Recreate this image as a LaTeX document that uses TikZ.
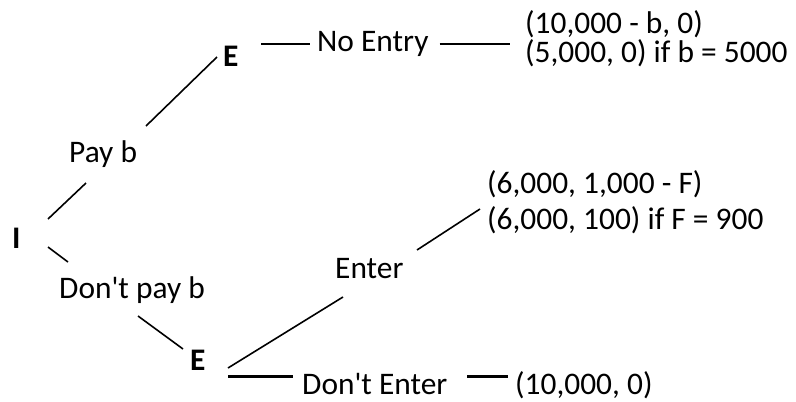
\documentclass[tikz,border=0pt]{standalone}
\usepackage{fontspec}
\setmainfont{Carlito}
\tikzset{
  lbl/.style={anchor=base west, inner sep=0pt, font=\fontsize{31.4}{37}\selectfont},
  player/.style={lbl, font=\fontsize{31.4}{37}\selectfont\bfseries},
  edge/.style={line width=1.6pt},
  thickedge/.style={line width=3pt}
}
\begin{document}
\begin{tikzpicture}[x=1pt,y=-1pt]
\useasboundingbox (0,0) rectangle (796,402);
% nodes
\node[player] (I) at (12,248) {I};
\node[player] (E1) at (223,66) {E};
\node[player] (E2) at (190,370) {E};
\node[lbl] (payb) at (69,162) {Pay b};
\node[lbl] (dontpay) at (59,298) {Don\textquotesingle t pay b};
\node[lbl] (noentry) at (317,51) {No Entry};
\node[lbl] (enter) at (335,278) {Enter};
\node[lbl] (dontenter) at (302,394) {Don\textquotesingle t Enter};
\node[lbl] (p1a) at (525,33) {(10,000 - b, 0)};
\node[lbl] (p1b) at (525,62) {(5,000, 0) if b = 5000};
\node[lbl] (p2a) at (487,193) {(6,000, 1,000 - F)};
\node[lbl] (p2b) at (487,229) {(6,000, 100) if F = 900};
\node[lbl] (p3) at (515,394) {(10,000, 0)};
% connectors
\draw[edge] ([shift={(36,-29)}]I.base west) -- ([shift={(17,21)}]payb.base west);
\draw[edge] ([shift={(77,-36)}]payb.base west) -- ([shift={(-6,-9)}]E1.base west);
\draw[edge] ([shift={(38,-22)}]E1.base west) -- ([shift={(-7,-7)}]noentry.base west);
\draw[edge] ([shift={(11,-7)}]noentry.base east) -- ([shift={(-15,11)}]p1a.base west);
\draw[edge] ([shift={(36,-1)}]I.base west) -- ([shift={(9,-36)}]dontpay.base west);
\draw[edge] ([shift={(79,18)}]dontpay.base west) -- ([shift={(-7,-21)}]E2.base west);
\draw[edge] ([shift={(38,-2)}]E2.base west) -- ([shift={(8,19)}]enter.base west);
\draw[edge] ([shift={(82,-28)}]enter.base west) -- ([shift={(-7,16)}]p2a.base west);
\draw[thickedge] ([shift={(38,6)}]E2.base west) -- ([shift={(-9,-18)}]dontenter.base west);
\draw[thickedge] ([shift={(165,-18)}]dontenter.base west) -- ([shift={(-7,-18)}]p3.base west);
\end{tikzpicture}
\end{document}
